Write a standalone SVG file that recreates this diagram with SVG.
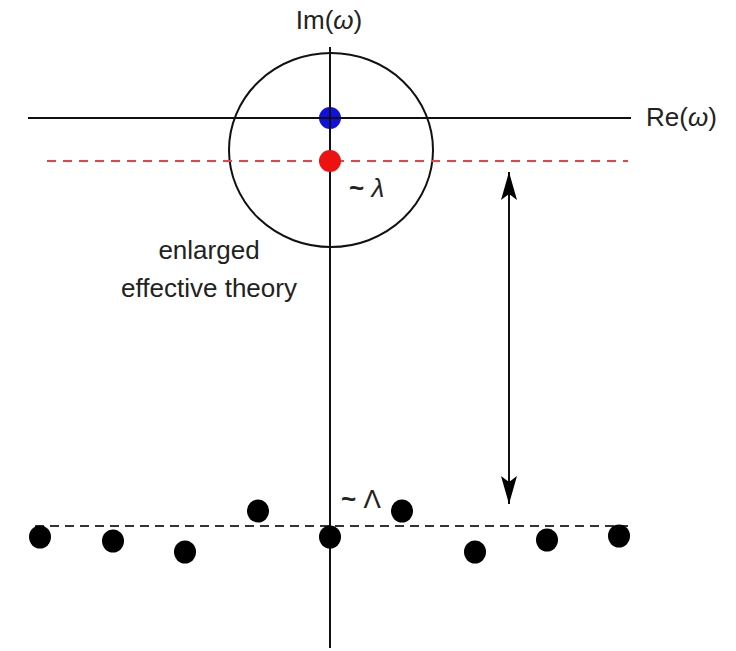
<svg xmlns="http://www.w3.org/2000/svg" width="736" height="651" viewBox="0 0 736 651">
<style>
.t{font-family:"Liberation Sans",Arial,sans-serif;font-size:26px;fill:#222}
.ax{stroke:#111;stroke-width:2;fill:none}
.dot{fill:#000}
</style>
<defs>
<marker id="ah" viewBox="0 0 28 16" refX="28" refY="8" markerWidth="28" markerHeight="16" markerUnits="userSpaceOnUse" orient="auto-start-reverse">
<path d="M28,8 L0,0 L6,8 L0,16 Z" fill="#000"/>
</marker>
</defs>
<rect width="736" height="651" fill="#fff"/>
<g id="blue-pole"><circle cx="330" cy="118" r="11" fill="#1010e0"/></g>
<g id="connectors">
<line class="ax" x1="28" y1="118" x2="631" y2="118"/>
<line class="ax" x1="330" y1="47" x2="330" y2="648"/>
<ellipse cx="331" cy="150" rx="102" ry="97" class="ax"/>
<line x1="47" y1="161" x2="628" y2="161" stroke="#f04040" stroke-width="2" stroke-dasharray="9,7"/>
<line x1="35" y1="526" x2="628" y2="526" stroke="#333" stroke-width="2" stroke-dasharray="9,6"/>
<line x1="509" y1="172" x2="509" y2="504" stroke="#111" stroke-width="2" marker-start="url(#ah)" marker-end="url(#ah)"/>
</g>
<g id="labels">
<text class="t" x="329" y="29" text-anchor="middle">Im(<tspan font-style="italic">ω</tspan>)</text>
<text class="t" x="646" y="126">Re(<tspan font-style="italic">ω</tspan>)</text>
<text class="t" x="349" y="197" font-weight="bold">~ <tspan font-weight="normal" font-style="italic">λ</tspan></text>
<text class="t" x="209" y="259" text-anchor="middle">enlarged</text>
<text class="t" x="209" y="297" text-anchor="middle">effective theory</text>
<text class="t" x="341" y="508" font-weight="bold">~ <tspan font-weight="normal">Λ</tspan></text>
</g>
<g id="red-pole"><circle cx="330" cy="161" r="11" fill="#ee1111"/></g>
<g id="poles">
<ellipse class="dot" cx="40" cy="537" rx="11" ry="11.5"/>
<ellipse class="dot" cx="113" cy="541" rx="11" ry="11.5"/>
<ellipse class="dot" cx="185" cy="552" rx="11" ry="11.5"/>
<ellipse class="dot" cx="258" cy="511" rx="11" ry="11.5"/>
<ellipse class="dot" cx="330" cy="537" rx="11" ry="11.5"/>
<ellipse class="dot" cx="402" cy="511" rx="11" ry="11.5"/>
<ellipse class="dot" cx="475" cy="552" rx="11" ry="11.5"/>
<ellipse class="dot" cx="547" cy="540" rx="11" ry="11.5"/>
<ellipse class="dot" cx="619" cy="536" rx="11" ry="11.5"/>
</g>
</svg>
